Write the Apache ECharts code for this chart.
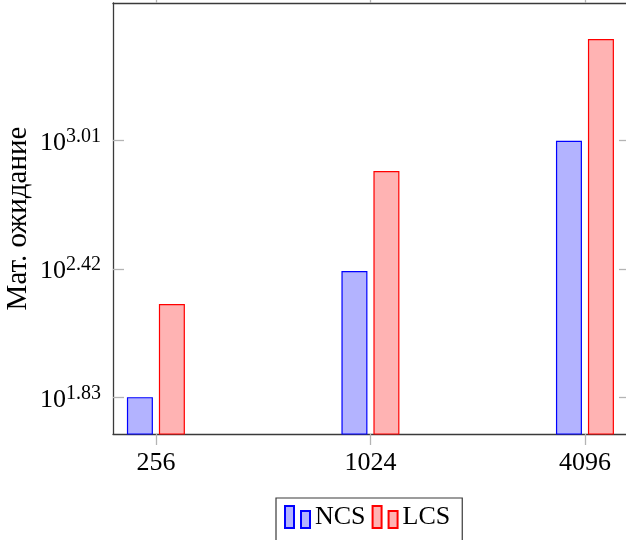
<!DOCTYPE html>
<html>
<head>
<meta charset="utf-8">
<script src="https://cdn.jsdelivr.net/npm/echarts@6/dist/echarts.min.js"></script>
<style>
  html, body { margin: 0; padding: 0; background: #fff; }
  #chart { width: 626px; height: 540px; }
</style>
</head>
<body>
<div id="chart"></div>
<script>
// Problem sizes on the horizontal axis
const categories = ['256', '1024', '4096'];
// Expected value per method
const ncsValues = [68, 258, 1022];
const lcsValues = [182, 743, 3000];
// Log-scale tick exponents shown on the vertical axis
const yTickExponents = [1.83, 2.42, 3.01];
// Visible range of the vertical axis, as powers of ten
const yMinExp = 1.6633;
const yMaxExp = 3.6422;

const FONT = 'Liberation Serif';
const AXIS_COLOR = '#3a3a3a';
const TICK_COLOR = '#b4b4b4';

const catIndex = categories.map((_, i) => i);
const xMin = -0.2, xMax = 2.21;

const chart = echarts.init(document.getElementById('chart'), null, { renderer: 'canvas' });

const supLabel = {
  color: '#000',
  fontFamily: FONT,
  rich: {
    base: { fontSize: 26, fontFamily: FONT, color: '#000', padding: [4, 0, 0, 0] },
    sup: { fontSize: 20, fontFamily: FONT, color: '#000', padding: [0, 0, 8, 0] }
  }
};

const frameLine = { show: true, onZero: false, lineStyle: { color: AXIS_COLOR, width: 1.3 } };
const tickLine = { color: TICK_COLOR, width: 1.3 };

chart.setOption({
  animation: false,
  backgroundColor: '#fff',
  grid: {
    left: 113, top: 3, width: 517, bottom: 106,
    containLabel: false,
    outerBoundsMode: 'none'
  },
  legend: {
    left: 276,
    top: 498,
    orient: 'horizontal',
    padding: [6, 12, 20, 8],
    borderColor: AXIS_COLOR,
    borderWidth: 1.2,
    itemWidth: 25,
    itemHeight: 22,
    itemGap: 6,
    icon: 'path://M0,0H9V22H0Z M16,5H25V22H16Z',
    textStyle: { fontFamily: FONT, fontSize: 26, color: '#000', padding: [6, 0, 0, 0] },
    data: ['NCS', 'LCS']
  },
  xAxis: [
    {
      type: 'value',
      position: 'bottom',
      min: xMin,
      max: xMax,
      splitLine: { show: false },
      axisLine: frameLine,
      axisTick: { show: true, inside: false, length: 11, customValues: catIndex, lineStyle: tickLine },
      axisLabel: {
        customValues: catIndex,
        margin: 16,
        fontFamily: FONT,
        fontSize: 26,
        color: '#000',
        formatter: v => categories[Math.round(v)] ?? ''
      }
    },
    {
      type: 'value',
      position: 'top',
      min: xMin,
      max: xMax,
      splitLine: { show: false },
      axisLine: frameLine,
      axisTick: { show: true, inside: false, length: 11, customValues: catIndex, lineStyle: tickLine },
      axisLabel: { show: false }
    }
  ],
  yAxis: [
    {
      // bars are measured on this logarithmic axis
      type: 'log',
      logBase: 10,
      position: 'left',
      min: Math.pow(10, yMinExp),
      max: Math.pow(10, yMaxExp),
      name: 'Мат. ожидание',
      nameLocation: 'middle',
      nameGap: 80,
      nameTextStyle: { fontFamily: FONT, fontSize: 29, color: '#000' },
      splitLine: { show: false },
      axisLine: frameLine,
      axisTick: { show: false },
      axisLabel: { show: false }
    },
    {
      // same range in exponent form, carrying the 10^x tick labels
      type: 'value',
      position: 'left',
      min: yMinExp,
      max: yMaxExp,
      splitLine: { show: false },
      axisLine: { show: false, onZero: false },
      axisTick: { show: true, inside: true, length: 11, customValues: yTickExponents, lineStyle: tickLine },
      axisLabel: Object.assign({
        customValues: yTickExponents,
        margin: 12,
        formatter: v => '{base|10}{sup|' + v.toFixed(2) + '}'
      }, supLabel)
    },
    {
      type: 'value',
      position: 'right',
      min: yMinExp,
      max: yMaxExp,
      splitLine: { show: false },
      axisLine: frameLine,
      axisTick: { show: true, inside: true, length: 11, customValues: yTickExponents, lineStyle: tickLine },
      axisLabel: { show: false }
    }
  ],
  series: [
    {
      name: 'NCS',
      type: 'bar',
      xAxisIndex: 0,
      yAxisIndex: 0,
      barWidth: 26,
      barGap: '23%',
      clip: true,
      itemStyle: { color: '#b3b3ff', borderColor: '#0000ff', borderWidth: 1.2 },
      data: ncsValues.map((v, i) => [i, v])
    },
    {
      name: 'LCS',
      type: 'bar',
      xAxisIndex: 0,
      yAxisIndex: 0,
      barWidth: 26,
      barGap: '23%',
      clip: true,
      itemStyle: { color: '#ffb3b3', borderColor: '#ff0000', borderWidth: 1.2 },
      data: lcsValues.map((v, i) => [i, v])
    }
  ]
});
</script>
</body>
</html>
